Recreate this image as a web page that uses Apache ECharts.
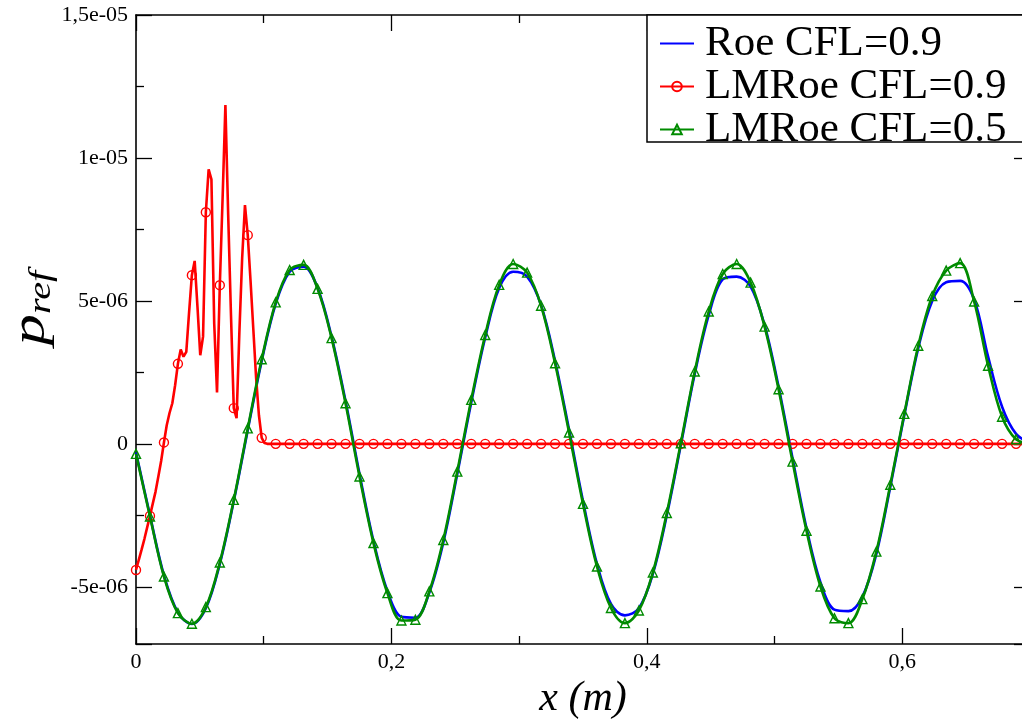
<!DOCTYPE html>
<html><head><meta charset="utf-8">
<script src="https://cdn.jsdelivr.net/npm/echarts@6/dist/echarts.min.js"></script>
<style>html,body{margin:0;padding:0;background:#fff}#c{width:1022px;height:720px}</style>
</head><body><div id="c"></div>
<script>
// ---- tick labels ----
const xTickValues = [0, 0.2, 0.4, 0.6];
const xTickLabels = ['0', '0,2', '0,4', '0,6'];
const yTickValues = [-5e-6, 0, 5e-6, 1e-5, 1.5e-5];
const yTickLabels = ['-5e-06', '0', '5e-06', '1e-05', '1,5e-05'];
const seriesNames = ['Roe CFL=0.9', 'LMRoe CFL=0.9', 'LMRoe CFL=0.5'];
const xAxisTitle = 'x (m)';
const yAxisTitleMain = 'p', yAxisTitleSub = 'ref';
const xMin = 0, xMax = 0.7, yMin = -7e-6, yMax = 1.5e-5;
const unit = 1e-6;           // values below are in units of 1e-6
const markerStep = 0.7 / 64; // sampling of the marker grid in x
const fineStep = markerStep / 5;

// Roe CFL=0.9 (blue), sampled at the marker grid
const roeCFL09 = [
  -0.30, -2.50, -4.60, -5.90, -6.30, -5.75, -4.20, -2.00, 0.48, 2.90,
  4.90, 6.02, 6.20, 5.45, 3.75, 1.50, -1.05, -3.40, -5.15, -6.05,
  -6.08, -5.20, -3.45, -1.05, 1.45, 3.72, 5.45, 6.02, 5.85, 4.85,
  2.90, 0.50, -2.00, -4.20, -5.60, -6.00, -5.75, -4.55, -2.50, -0.05,
  2.45, 4.50, 5.75, 5.85, 5.50, 4.15, 2.00, -0.50, -2.95, -4.85,
  -5.80, -5.85, -5.35, -3.85, -1.50, 1.00, 3.35, 5.00, 5.65, 5.70,
  5.05, 3.05, 1.30, 0.35, 0.05
];
// LMRoe CFL=0.5 (green), at the marker grid
const lmroeCFL05 = [
  -0.35, -2.54, -4.64, -5.92, -6.29, -5.71, -4.15, -1.96, 0.54, 2.96,
  4.95, 6.08, 6.26, 5.42, 3.70, 1.42, -1.14, -3.47, -5.22, -6.18,
  -6.15, -5.16, -3.36, -0.97, 1.54, 3.81, 5.56, 6.29, 5.99, 4.83,
  2.82, 0.40, -2.10, -4.29, -5.74, -6.27, -5.83, -4.50, -2.42, 0.02,
  2.53, 4.63, 5.94, 6.29, 5.64, 4.10, 1.91, -0.62, -3.04, -4.99,
  -6.10, -6.27, -5.43, -3.77, -1.43, 1.05, 3.43, 5.17, 6.06, 6.32,
  4.98, 2.73, 0.95, 0.16, 0.02
];
// LMRoe CFL=0.9 (red), fine grid for x in [0, 0.109375]
const lmroeCFL09Fine = [
  -4.41, -4.06, -3.70, -3.33, -2.92, -2.52, -2.09, -1.67, -1.14, -0.60,
  0.05, 0.65, 1.08, 1.42, 2.05, 2.80, 3.30, 3.05, 3.22, 4.60,
  5.90, 6.40, 4.80, 3.10, 3.75, 8.10, 9.60, 9.25, 4.20, 1.80,
  5.55, 8.60, 11.85, 8.00, 4.50, 1.25, 0.90, 3.90, 6.50, 8.35,
  7.30, 5.70, 4.00, 2.30, 1.00, 0.21, 0.03, 0, 0, 0,
  0
];
// LMRoe CFL=0.9 (red), marker grid from marker 11 to 64
const lmroeCFL09Tail = [
  0, 0, 0, 0, 0, 0, 0, 0, 0, 0,
  0, 0, 0, 0, 0, 0, 0, 0, 0, 0,
  0, 0, 0, 0, 0, 0, 0, 0, 0, 0,
  0, 0, 0, 0, 0, 0, 0, 0, 0, 0,
  0, 0, 0, 0, 0, 0, 0, 0, 0, 0,
  0, 0, 0, 0
];
const tailStart = 11;

const blueData = roeCFL09.map((v, i) => [i * markerStep, v * unit]);
const greenData = lmroeCFL05.map((v, i) => [i * markerStep, v * unit]);
const redData = lmroeCFL09Fine.map((v, k) => [k * fineStep, v * unit])
  .concat(lmroeCFL09Tail.map((v, j) => [(j + tailStart) * markerStep, v * unit]));
const fineCount = lmroeCFL09Fine.length;

const FONT = 'Liberation Serif';
function xFmt(v) {
  const i = xTickValues.findIndex(t => Math.abs(t - v) < 1e-9);
  return i >= 0 ? xTickLabels[i] : '';
}
function yFmt(v) {
  const i = yTickValues.findIndex(t => Math.abs(t - v) < 1e-12);
  return i >= 0 ? yTickLabels[i] : '';
}
const axisLine = { show: true, onZero: false, lineStyle: { color: '#000', width: 1.6 } };
const tick = { show: true, inside: true, length: 16, lineStyle: { color: '#000', width: 1.3 } };
const minor = { show: true, splitNumber: 2, length: 8, lineStyle: { color: '#000', width: 1.3 } };
const RED = '#ff0000', BLUE = '#0000ff', GREEN = '#008b00';

const chart = echarts.init(document.getElementById('c'), null, { renderer: 'canvas' });
chart.setOption({
  animation: false,
  backgroundColor: '#fff',
  grid: { left: 136, top: 15, right: -8, bottom: 76, containLabel: false, outerBoundsMode: 'none' },
  xAxis: [
    { type: 'value', min: xMin, max: xMax, interval: 0.2, position: 'bottom',
      axisLine, axisTick: tick, minorTick: minor, splitLine: { show: false },
      axisLabel: { show: true, formatter: xFmt, fontFamily: FONT, fontSize: 22, color: '#000', margin: 7, showMaxLabel: false },
      name: xAxisTitle, nameLocation: 'middle', nameGap: 24,
      nameTextStyle: { fontFamily: FONT, fontSize: 42, fontStyle: 'italic', color: '#000' } },
    { type: 'value', min: xMin, max: xMax, interval: 0.2, position: 'top',
      axisLine, axisTick: tick, minorTick: minor, splitLine: { show: false }, axisLabel: { show: false } }
  ],
  yAxis: [
    { type: 'value', min: yMin, max: yMax, splitNumber: 5, position: 'left',
      axisLine, axisTick: tick, minorTick: minor, splitLine: { show: false },
      axisLabel: { show: true, formatter: yFmt, fontFamily: FONT, fontSize: 22, color: '#000', margin: 8, showMinLabel: false, showMaxLabel: true } },
    { type: 'value', min: yMin, max: yMax, splitNumber: 5, position: 'right',
      axisLine, axisTick: tick, minorTick: minor, splitLine: { show: false }, axisLabel: { show: false } }
  ],
  legend: {
    data: [
      { name: seriesNames[0], itemStyle: { color: 'rgba(0,0,0,0)', borderColor: 'rgba(0,0,0,0)', borderWidth: 0, opacity: 0 } },
      { name: seriesNames[1] },
      { name: seriesNames[2] }
    ],
    orient: 'vertical', left: 659, top: 22, z: 20,
    itemWidth: 34, itemHeight: 12, itemGap: 0, padding: 0,
    textStyle: { fontFamily: FONT, fontSize: 43, lineHeight: 40, color: '#000', padding: [0, 0, 0, 6] }
  },
  graphic: [
    { type: 'rect', z: 15, shape: { x: 647, y: 15, width: 420, height: 127 },
      style: { fill: '#fff', stroke: '#000', lineWidth: 1.5 } },
    { type: 'text', z: 15, x: 31, y: 308, rotation: Math.PI / 2, scaleX: 1.3, scaleY: 1,
      style: { text: '{p|' + yAxisTitleMain + '}{s|' + yAxisTitleSub + '}', align: 'center', verticalAlign: 'middle',
        rich: {
          p: { fontFamily: FONT, fontSize: 48, fontStyle: 'italic', fill: '#000' },
          s: { fontFamily: FONT, fontSize: 31, fontStyle: 'italic', fill: '#000', padding: [22, 0, 0, 0] }
        } } }
  ],
  series: [
    { name: seriesNames[0], type: 'line', data: blueData, smooth: 0.35, showSymbol: false, symbol: 'none',
      lineStyle: { color: BLUE, width: 2.6 }, itemStyle: { color: BLUE }, z: 2 },
    { name: seriesNames[1], type: 'line', data: redData, smooth: false, symbol: 'circle', showAllSymbol: true,
      symbolSize: (val, p) => (p.dataIndex < fineCount ? (p.dataIndex % 5 === 0 ? 9 : 0) : 9),
      lineStyle: { color: RED, width: 2.6 }, itemStyle: { color: 'rgba(255,0,0,0)', borderColor: RED, borderWidth: 1.4 }, z: 3 },
    { name: seriesNames[2], type: 'line', data: greenData, smooth: 0.35, symbol: 'triangle', showAllSymbol: true, symbolSize: 9,
      lineStyle: { color: GREEN, width: 2.6 }, itemStyle: { color: 'rgba(0,139,0,0)', borderColor: GREEN, borderWidth: 1.4 }, z: 4 }
  ]
});
</script></body></html>
